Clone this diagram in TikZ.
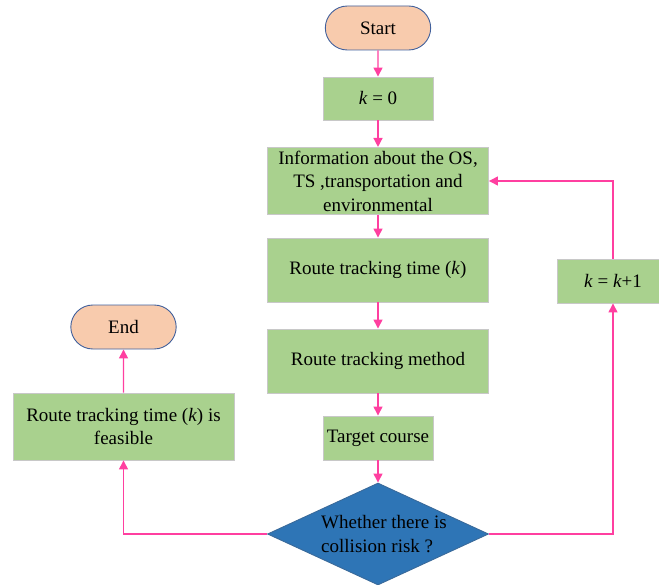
\documentclass[tikz,border=0pt]{standalone}
\usepackage{fontspec}
\setmainfont{Liberation Serif}
\usetikzlibrary{shapes.geometric,shapes.misc,arrows.meta}
\definecolor{termfill}{HTML}{F8CBAD}
\definecolor{termline}{HTML}{41609C}
\definecolor{procfill}{HTML}{A9D18E}
\definecolor{procline}{HTML}{C8C8C8}
\definecolor{askfill}{HTML}{2E75B6}
\definecolor{askline}{HTML}{3A6A9A}
\definecolor{flowpink}{HTML}{FF3FA0}
\tikzset{
	term/.style={rounded rectangle,draw=termline,fill=termfill,line width=0.9bp,minimum width=112bp,minimum height=44bp},
	proc/.style={rectangle,draw=procline,fill=procfill,line width=0.9bp,minimum height=44bp,align=center},
	ask/.style={diamond,draw=askline,fill=askfill,line width=0.9bp,minimum width=221bp,minimum height=102bp,inner sep=0pt},
	flow/.style={draw=flowpink,line width=1.4bp,-{Triangle[width=9bp,length=9bp]}}
}
\begin{document}
\begin{tikzpicture}[x=1bp,y=-1bp,font=\fontsize{19bp}{23.5bp}\selectfont]
			\useasboundingbox (0,0) rectangle (659,585);
			
			\node[term] (start) at (378,28) {Start};
			\node[proc,minimum width=110bp,minimum height=43bp] (kzero) at (378,98.5) {\textit{k} = 0};
			\node[proc,minimum width=221bp,minimum height=66bp] (info) at (378,181) {Information about the OS,\\TS ,transportation and\\environmental};
			\node[proc,minimum width=221bp,minimum height=64bp] (track) at (378,270) {Route tracking time (\textit{k})};
			\node[proc,minimum width=221bp,minimum height=64bp] (method) at (378,361) {Route tracking method};
			\node[proc,minimum width=110bp] (target) at (378,438) {Target course};
			\node[ask] (risk) at (378,534) {};
			\node[align=left] (risktext) at (384,534) {Whether there is\\collision risk ?};
			\node[proc,minimum width=112bp] (kinc) at (613,281) {\textit{k} = \textit{k}+1};
			\node[proc,minimum width=221bp,minimum height=67bp] (feas) at (123.5,426.5) {Route tracking time (\textit{k}) is\\feasible};
			\node[term] (end) at (123.5,327) {End};
			
			\foreach \a/\b in {start/kzero,kzero/info,info/track,track/method,method/target,target/risk,feas/end}
			\draw[flow] (\a) -- (\b);
			
			\draw[flow] (risk.east) -| (kinc.south);
			\draw[flow] (kinc.north) |- (info.east);
			\draw[flow] (risk.west) -| (feas.south);
			\end{tikzpicture}
\end{document}
